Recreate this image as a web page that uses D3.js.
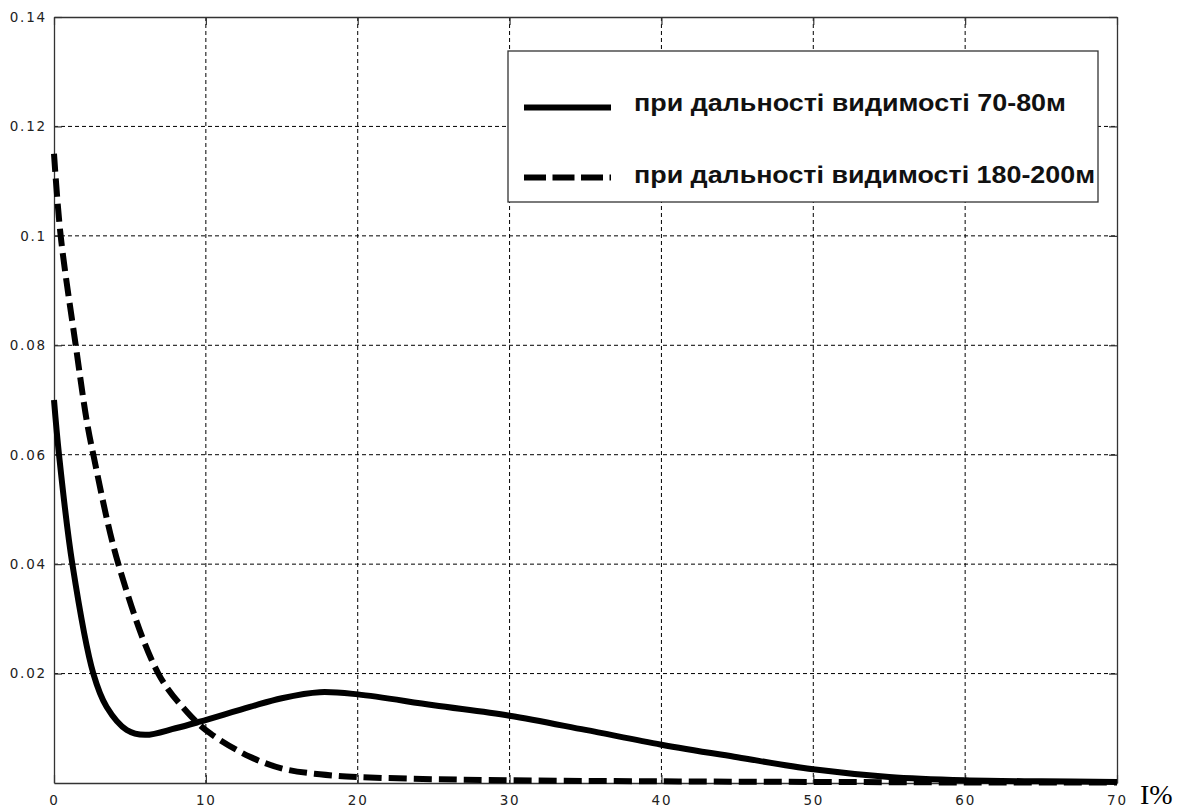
<!DOCTYPE html>
<html>
<head>
<meta charset="utf-8">
<script src="https://cdn.jsdelivr.net/npm/d3@7"></script>
<style>
  html, body { margin: 0; padding: 0; background: #fff; }
  svg { display: block; }
</style>
</head>
<body>
<svg id="chart" width="1186" height="809"></svg>
<script>
// ---- data ----
const xTicks = [0, 10, 20, 30, 40, 50, 60, 70];
const yTicks = [0.02, 0.04, 0.06, 0.08, 0.1, 0.12, 0.14];
const yTickLabels = ["0.02", "0.04", "0.06", "0.08", "0.1", "0.12", "0.14"];

const seriesNames = ["при дальності видимості 70-80м", "при дальності видимості 180-200м"];

// 70-80 m (solid)
const solidX = [0, 0.33, 1.21, 2.59, 3.47, 4.79, 6.0, 8.0, 9.6, 12.9, 15, 17.5, 20, 25, 30, 35, 40, 45, 50, 55, 60, 65, 70];
const solidY = [0.070, 0.060, 0.040, 0.020, 0.0139, 0.0097, 0.0088, 0.0100, 0.0112, 0.0139, 0.0155, 0.0166, 0.0162, 0.0142, 0.0123, 0.0097, 0.0070, 0.0047, 0.0025, 0.0011, 0.0005, 0.0003, 0.0002];

// 180-200 m (dashed)
const dashX = [0, 0.44, 1.43, 2.15, 2.59, 4.24, 6.87, 8.82, 10.27, 12.9, 15.1, 17.5, 20, 25, 30, 40, 50, 60, 70];
const dashY = [0.115, 0.100, 0.080, 0.0663, 0.060, 0.040, 0.020, 0.0128, 0.0091, 0.0048, 0.0026, 0.0016, 0.0011, 0.0007, 0.0005, 0.0003, 0.0002, 0.0001, 0.0001];

// ---- layout ----
const svg = d3.select("#chart");
const L = 54, R = 1117, T = 17, B = 783;
const x = d3.scaleLinear().domain([0, 70]).range([L, R]);
const y = d3.scaleLinear().domain([0, 0.14]).range([B, T]);
const tickFont = "DejaVu Sans, Verdana, sans-serif";

// grid
const grid = svg.append("g");
grid.selectAll("line.vx").data(xTicks.slice(1, -1)).join("line")
  .attr("x1", d => x(d)).attr("x2", d => x(d)).attr("y1", T).attr("y2", B)
  .attr("stroke", "#000").attr("stroke-width", 1).attr("stroke-dasharray", "4,3");
grid.selectAll("line.hy").data(yTicks.slice(0, -1)).join("line")
  .attr("x1", L).attr("x2", R).attr("y1", d => y(d)).attr("y2", d => y(d))
  .attr("stroke", "#000").attr("stroke-width", 1).attr("stroke-dasharray", "4,3");

// axes (inward ticks, MATLAB style)
const tickLen = 8;
const axB = svg.append("g").attr("transform", `translate(0,${B})`)
  .call(d3.axisBottom(x).tickValues(xTicks).tickSizeInner(-tickLen).tickSizeOuter(0).tickPadding(12).tickFormat(d3.format("d")));
const axT = svg.append("g").attr("transform", `translate(0,${T})`)
  .call(d3.axisTop(x).tickValues(xTicks).tickSizeInner(-tickLen).tickSizeOuter(0).tickFormat(""));
const axL = svg.append("g").attr("transform", `translate(${L},0)`)
  .call(d3.axisLeft(y).tickValues(yTicks).tickSizeInner(-tickLen).tickSizeOuter(0).tickPadding(7)
    .tickFormat((d, i) => yTickLabels[i]));
const axR = svg.append("g").attr("transform", `translate(${R},0)`)
  .call(d3.axisRight(y).tickValues(yTicks).tickSizeInner(-tickLen).tickSizeOuter(0).tickFormat(""));

[axB, axT, axL, axR].forEach(a => {
  a.select(".domain").attr("stroke", "#333").attr("stroke-width", 1.3);
  a.selectAll(".tick line").attr("stroke", "#333").attr("stroke-width", 1.2);
  a.selectAll(".tick text").attr("fill", "#222").attr("font-family", tickFont)
    .attr("font-size", 13.5).attr("letter-spacing", 1.8);
});
axB.selectAll(".tick text").attr("dy", "0.71em");

// axis label
svg.append("text").attr("x", 1140).attr("y", 804)
  .attr("font-family", "Liberation Serif, Times New Roman, serif").attr("font-size", 28)
  .attr("fill", "#000").text("I%");

// lines
const line = d3.line().x(d => x(d[0])).y(d => y(d[1])).curve(d3.curveCatmullRom.alpha(0.5));
svg.append("path").datum(dashX.map((v, i) => [v, dashY[i]]))
  .attr("d", line).attr("fill", "none").attr("stroke", "#000").attr("stroke-width", 6)
  .attr("stroke-dasharray", "18,7");
svg.append("path").datum(solidX.map((v, i) => [v, solidY[i]]))
  .attr("d", line).attr("fill", "none").attr("stroke", "#000").attr("stroke-width", 6)
  .attr("stroke-linejoin", "round");

// legend
const lg = svg.append("g");
lg.append("rect").attr("x", 508).attr("y", 51).attr("width", 590).attr("height", 151)
  .attr("fill", "#fff").attr("stroke", "#333").attr("stroke-width", 1.3);
const legRows = [
  { name: seriesNames[0], dash: null, ly: 107.5, ty: 111, len: 432 },
  { name: seriesNames[1], dash: "22,6.5", ly: 177.5, ty: 183, len: 461 }
];
legRows.forEach(r => {
  lg.append("line").attr("x1", 524).attr("x2", 611).attr("y1", r.ly).attr("y2", r.ly)
    .attr("stroke", "#000").attr("stroke-width", 6).attr("stroke-dasharray", r.dash);
  lg.append("text").attr("x", 634).attr("y", r.ty)
    .attr("font-family", "Liberation Sans, Arial, sans-serif").attr("font-weight", "bold")
    .attr("font-size", 24).attr("fill", "#111")
    .attr("textLength", r.len).attr("lengthAdjust", "spacingAndGlyphs")
    .text(r.name);
});
</script>
</body>
</html>
